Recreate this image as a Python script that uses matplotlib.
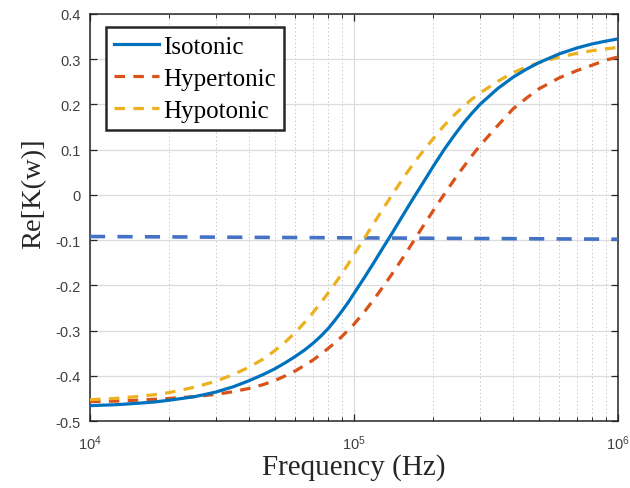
import numpy as np
import matplotlib
matplotlib.use('Agg')
import matplotlib.pyplot as plt
from matplotlib.ticker import LogLocator, NullFormatter

# frequency points (Hz)
freq = [1e4, 1.25e4, 1.5e4, 1.75e4, 2e4, 2.5e4, 3e4, 3.5e4, 4e4, 4.5e4,
        5e4, 5.5e4, 6e4, 6.5e4, 7e4, 7.5e4, 8e4, 8.5e4, 9e4, 9.5e4,
        1e5, 1.1e5, 1.2e5, 1.3e5, 1.4e5, 1.5e5, 1.6e5, 1.7e5, 1.8e5, 1.9e5,
        2e5, 2.2e5, 2.4e5, 2.6e5, 2.8e5, 3e5, 3.5e5, 4e5, 4.5e5, 5e5,
        6e5, 7e5, 8e5, 9e5, 1e6]

isotonic = [-0.466, -0.464, -0.461, -0.458, -0.454, -0.446, -0.436, -0.424, -0.411, -0.398,
            -0.385, -0.371, -0.357, -0.343, -0.328, -0.312, -0.295, -0.276, -0.257, -0.238,
            -0.218, -0.181, -0.146, -0.113, -0.083, -0.054, -0.027, -0.002, 0.021, 0.043,
            0.064, 0.101, 0.132, 0.159, 0.181, 0.200, 0.235, 0.260, 0.278, 0.292,
            0.312, 0.325, 0.334, 0.340, 0.345]

hypertonic = [-0.457, -0.456, -0.454, -0.452, -0.450, -0.446, -0.441, -0.435, -0.428, -0.420,
              -0.411, -0.400, -0.389, -0.377, -0.365, -0.352, -0.339, -0.326, -0.313, -0.299,
              -0.286, -0.257, -0.228, -0.200, -0.173, -0.147, -0.122, -0.098, -0.075, -0.054,
              -0.034, 0.002, 0.034, 0.062, 0.087, 0.109, 0.153, 0.190, 0.214, 0.234,
              0.259, 0.275, 0.287, 0.298, 0.305]

hypotonic = [-0.453, -0.450, -0.446, -0.442, -0.437, -0.425, -0.412, -0.397, -0.381, -0.364,
             -0.345, -0.325, -0.304, -0.282, -0.260, -0.238, -0.216, -0.195, -0.174, -0.153,
             -0.132, -0.094, -0.059, -0.027, 0.002, 0.028, 0.052, 0.073, 0.092, 0.109,
             0.125, 0.154, 0.177, 0.196, 0.212, 0.225, 0.251, 0.270, 0.283, 0.292,
             0.305, 0.313, 0.319, 0.323, 0.326]

# flat dashed reference line
ref_freq = [1e4, 1e6]
ref_val = [-0.092, -0.098]

labels = ['Isotonic', 'Hypertonic', 'Hypotonic']

plt.rcParams['font.family'] = ['Liberation Sans', 'DejaVu Sans']

fig = plt.figure(figsize=(6.3, 4.89), dpi=100)
ax = fig.add_axes([90 / 630, 1 - 422 / 489, 528 / 630, 407 / 489])

ax.plot(freq, isotonic, color='#0072BD', lw=2.3, label=labels[0], zorder=5)
ax.plot(freq, hypertonic, color='#D95319', lw=2.3, dashes=(3.3, 2.6),
        label=labels[1], zorder=4)
ax.plot(freq, hypotonic, color='#EDB120', lw=2.3, dashes=(3.3, 2.6),
        label=labels[2], zorder=4)
ax.plot(ref_freq, ref_val, color='#4472C4', lw=2.6, dashes=(4.2, 3.4),
        zorder=3)

ax.set_xscale('log')
ax.set_xlim(1e4, 1e6)
ax.set_ylim(-0.5, 0.4)
yt = np.round(np.arange(-0.5, 0.41, 0.1), 1)
ax.set_yticks(yt)
ax.set_yticklabels(['%g' % (v + 0.0) for v in yt])
ax.xaxis.set_major_locator(LogLocator(base=10))
ax.xaxis.set_minor_locator(LogLocator(base=10, subs=np.arange(2, 10)))
ax.xaxis.set_minor_formatter(NullFormatter())

ax.grid(True, which='major', color='#dcdcdc', lw=0.9, ls='-')
ax.grid(True, which='minor', axis='x', color='#c8c8c8', lw=0.7, ls=(0, (1.5, 2.5)))
ax.set_axisbelow(True)

for s in ax.spines.values():
    s.set_color('#262626')
    s.set_linewidth(1.1)

ax.tick_params(which='both', direction='in', top=True, right=True,
               colors='#262626', labelcolor='#404040', labelsize=10.5)
ax.tick_params(which='major', length=5, width=0.9)
ax.tick_params(axis='x', which='major', pad=9)
ax.tick_params(axis='y', which='major', pad=7)
ax.tick_params(which='minor', length=3, width=0.7)

ax.set_xlabel('Frequency (Hz)', fontsize=21, family='Liberation Serif',
              color='#262626', labelpad=1)
ax.set_ylabel('Re[K(w)]', fontsize=20.5, family='Liberation Serif',
              color='#262626')
# label sits a bit above the axis centre in the original
ax.yaxis.set_label_coords(-0.082, 0.56)

leg = ax.legend(loc='upper left', bbox_to_anchor=(106 / 630, 1 - 28 / 489),
                bbox_transform=fig.transFigure, fancybox=False, framealpha=1,
                edgecolor='#262626', borderaxespad=0, borderpad=0.33,
                labelspacing=0.38, handlelength=1.8, handletextpad=0.15,
                prop={'family': 'Liberation Serif', 'size': 18})
leg.get_frame().set_linewidth(1.8)

fig.savefig('out.png', dpi=100)
